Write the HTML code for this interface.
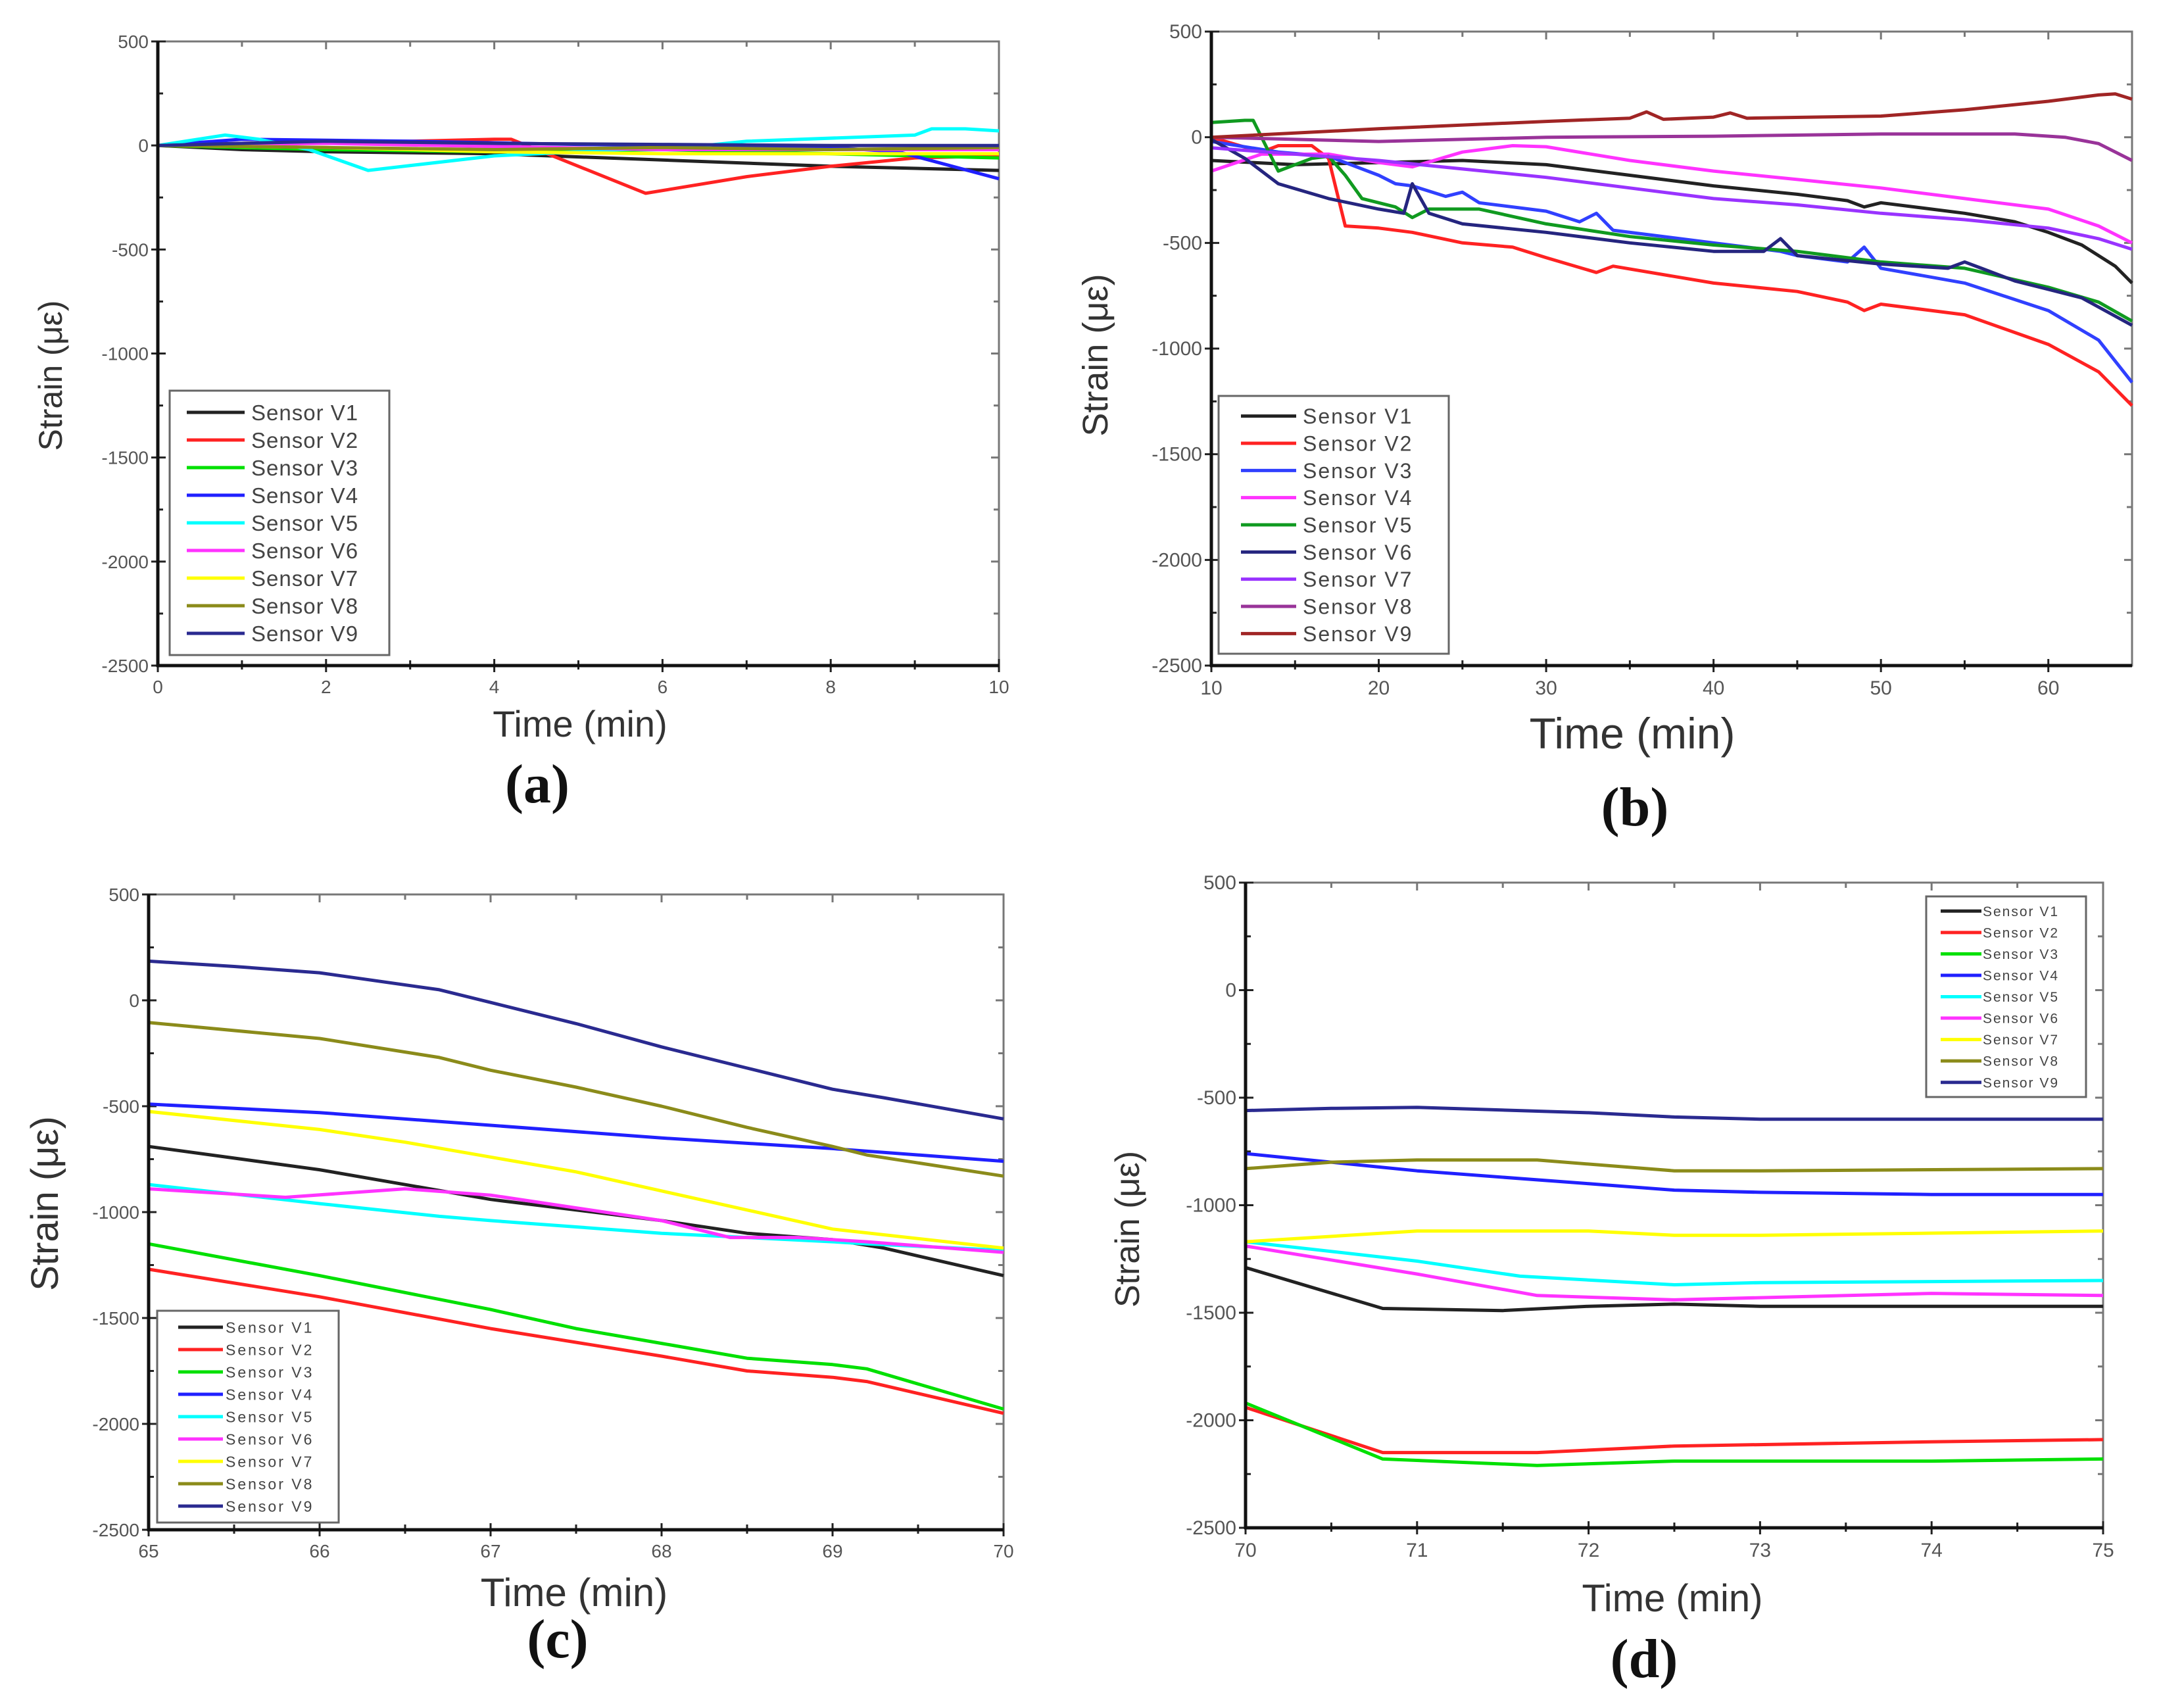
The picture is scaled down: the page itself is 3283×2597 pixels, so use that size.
<!DOCTYPE html>
<html><head><meta charset="utf-8"><style>
html,body{margin:0;padding:0;background:#fff;}
svg{display:block;}
</style></head><body>
<svg id="fig" width="3283" height="2597" viewBox="0 0 3283 2597" xmlns="http://www.w3.org/2000/svg"></svg>
<script>
// ---------- data ----------
const sensorNames = ["Sensor  V1","Sensor  V2","Sensor  V3","Sensor  V4","Sensor  V5","Sensor  V6","Sensor  V7","Sensor  V8","Sensor  V9"];
const yTicks = [500,0,-500,-1000,-1500,-2000,-2500];
const yTickLabels = ["500","0","-500","-1000","-1500","-2000","-2500"];

// Panel (a): time 0-10
const aX1=[0,1,2,4,6,8,10], aY1=[0,-20,-30,-40,-70,-100,-120];
const aX2=[0,2,3,4,4.2,5.8,7,8,9,10], aY2=[0,20,20,30,30,-230,-150,-100,-60,-50];
const aX3=[0,2,4,6,8,10], aY3=[0,-20,-30,-20,-40,-60];
const aX4=[0,1,3,5,8,8.8,10], aY4=[0,30,20,5,-10,-30,-160];
const aX5=[0,0.8,1.2,1.8,2.5,4,5,6.5,7,9,9.2,9.6,10], aY5=[0,50,30,-20,-120,-50,-30,0,20,50,80,80,70];
const aX6=[0,2,4,6,8,10], aY6=[0,10,-5,-20,-20,-20];
const aX7=[0,2,4,6,8,10], aY7=[0,-10,-30,-40,-40,-40];
const aX8=[0,2,4,6,8,10], aY8=[0,-10,-20,-10,-20,-10];
const aX9=[0,2,4,6,8,10], aY9=[0,20,10,5,0,0];

// Panel (b): time 10-65
const bX1=[10,15,20,25,30,35,40,45,48,49,50,55,58,60,62,64,65], bY1=[-110,-130,-120,-110,-130,-180,-230,-270,-300,-330,-310,-360,-400,-450,-510,-610,-690];
const bX2=[10,13,14,16,17,18,20,22,25,28,30,33,34,40,45,48,49,50,55,60,63,65], bY2=[0,-70,-40,-40,-100,-420,-430,-450,-500,-520,-570,-640,-610,-690,-730,-780,-820,-790,-840,-980,-1110,-1270];
const bX3=[10,14,17,20,21,22,24,25,26,30,32,33,34,40,44,45,48,49,50,55,60,63,65], bY3=[-20,-70,-90,-180,-220,-230,-280,-260,-310,-350,-400,-360,-440,-500,-540,-560,-590,-520,-620,-690,-820,-960,-1160];
const bX4=[10,13,17,20,22,25,28,30,35,40,45,50,55,60,63,65], bY4=[-160,-80,-80,-120,-140,-70,-40,-45,-110,-160,-200,-240,-290,-340,-420,-500];
const bX5=[10,12,12.5,14,16,17,18,19,21,22,23,26,30,35,40,45,50,55,60,63,65], bY5=[70,80,80,-160,-100,-90,-180,-290,-330,-380,-340,-340,-410,-470,-510,-540,-590,-620,-710,-780,-870];
const bX6=[10,12,14,17,20,21.5,22,23,25,30,35,40,43,44,45,50,54,55,56,58,60,62,65], bY6=[-10,-100,-220,-290,-340,-360,-220,-360,-410,-450,-500,-540,-540,-480,-560,-600,-620,-590,-620,-680,-720,-760,-890];
const bX7=[10,15,20,25,30,35,40,45,50,55,60,63,65], bY7=[-50,-80,-110,-150,-190,-240,-290,-320,-360,-390,-430,-480,-530];
const bX8=[10,20,30,40,50,58,61,63,65], bY8=[0,-20,0,5,15,15,0,-30,-110];
const bX9=[10,20,30,35,36,37,40,41,42,50,55,60,63,64,65], bY9=[0,40,75,90,120,85,95,115,90,100,130,170,200,205,180];

// Panel (c): time 65-70
const cX1=[65,66,67,68,68.5,69,69.3,70], cY1=[-690,-800,-940,-1040,-1100,-1130,-1170,-1300];
const cX2=[65,66,67,68,68.5,69,69.2,70], cY2=[-1270,-1400,-1550,-1680,-1750,-1780,-1800,-1950];
const cX3=[65,66,67,67.5,68,68.5,69,69.2,70], cY3=[-1150,-1300,-1460,-1550,-1620,-1690,-1720,-1740,-1930];
const cX4=[65,66,67,68,69,70], cY4=[-490,-530,-590,-650,-700,-760];
const cX5=[65,66,66.7,67,67.5,68,68.5,69,69.2,70], cY5=[-870,-960,-1020,-1040,-1070,-1100,-1120,-1140,-1150,-1180];
const cX6=[65,65.8,66.5,67,67.5,68,68.4,68.8,69.2,70], cY6=[-890,-930,-890,-920,-980,-1040,-1120,-1120,-1140,-1190];
const cX7=[65,66,66.5,67,67.5,68,68.5,69,70], cY7=[-525,-610,-670,-740,-810,-900,-990,-1080,-1170];
const cX8=[65,66,66.7,67,67.5,68,68.5,69,69.2,70], cY8=[-105,-180,-270,-330,-410,-500,-600,-690,-730,-830];
const cX9=[65,65.5,66,66.7,67,67.5,68,68.5,69,69.3,70], cY9=[185,160,130,50,-10,-110,-220,-320,-420,-460,-560];

// Panel (d): time 70-75
const dX1=[70,70.8,71.5,72,72.5,73,75], dY1=[-1290,-1480,-1490,-1470,-1460,-1470,-1470];
const dX2=[70,70.8,71.7,72.5,74,75], dY2=[-1940,-2150,-2150,-2120,-2100,-2090];
const dX3=[70,70.8,71.7,72.5,74,75], dY3=[-1920,-2180,-2210,-2190,-2190,-2180];
const dX4=[70,71,72,72.5,73,74,75], dY4=[-760,-840,-900,-930,-940,-950,-950];
const dX5=[70,71,71.6,72.5,73,75], dY5=[-1170,-1260,-1330,-1370,-1360,-1350];
const dX6=[70,71,71.7,72.5,73,74,75], dY6=[-1190,-1320,-1420,-1440,-1430,-1410,-1420];
const dX7=[70,71,72,72.5,73,74,75], dY7=[-1170,-1120,-1120,-1140,-1140,-1130,-1120];
const dX8=[70,70.5,71,71.7,72.5,73,75], dY8=[-830,-800,-790,-790,-840,-840,-830];
const dX9=[70,70.5,71,72,72.5,73,75], dY9=[-560,-550,-545,-570,-590,-600,-600];

const aTicks=[0,2,4,6,8,10], bTicks=[10,20,30,40,50,60], cTicks=[65,66,67,68,69,70], dTicks=[70,71,72,73,74,75];

// ---------- drawing ----------
const NS="http://www.w3.org/2000/svg";
const svg=document.getElementById('fig');
function mk(tag,attrs,parent){const e=document.createElementNS(NS,tag);for(const k in attrs)e.setAttribute(k,attrs[k]);(parent||svg).appendChild(e);return e;}
const colA=["#222222","#ff2222","#00e000","#2020ff","#00ffff","#ff33ff","#ffff00","#8b8b1a","#2a2a90"];
const colB=["#222222","#ff2222","#3040ff","#ff33ff","#109a20","#25257f","#9933ff","#993399","#a02525"];

function panel(cfg){
  const g=mk('g',{});
  
  
  const L=cfg.L,R=cfg.R,T=cfg.T,B=cfg.B;
  const sx=v=>L+(v-cfg.x0)/(cfg.x1-cfg.x0)*(R-L);
  const sy=v=>B-(v-(-2500))/3000*(B-T);
  const fr=mk('rect',{x:L,y:T,width:R-L,height:B-T,fill:'none',stroke:'#777',"stroke-width":3},g);
  
  const yax=mk('g',{},g);
  yTicks.forEach((v,i)=>{
    const y=sy(v);
    mk('line',{x1:L-10,x2:L+12,y1:y,y2:y,stroke:'#222',"stroke-width":3},yax);
    mk('line',{x1:R-12,x2:R,y1:y,y2:y,stroke:'#777',"stroke-width":3},yax);
    const t=mk('text',{x:L-14,y:y+10,"text-anchor":"end","font-size":cfg.tf,fill:'#555',"font-family":"Liberation Sans, sans-serif"},yax);
    t.textContent=yTickLabels[i];
    
    if(i<yTicks.length-1){const ym=sy(v-250);
      mk('line',{x1:L,x2:L+8,y1:ym,y2:ym,stroke:'#222',"stroke-width":3},yax);
      mk('line',{x1:R-8,x2:R,y1:ym,y2:ym,stroke:'#777',"stroke-width":3},yax);}
  });
  const xax=mk('g',{},g);
  const step=cfg.ticks[1]-cfg.ticks[0];
  cfg.ticks.forEach((v,i)=>{
    const x=sx(v);
    mk('line',{x1:x,x2:x,y1:B-10,y2:B+10,stroke:'#222',"stroke-width":3},xax);
    mk('line',{x1:x,x2:x,y1:T,y2:T+12,stroke:'#777',"stroke-width":3},xax);
    const t=mk('text',{x:x,y:B+cfg.tf+14,"text-anchor":"middle","font-size":cfg.tf,fill:'#555',"font-family":"Liberation Sans, sans-serif"},xax);
    t.textContent=String(v);
    
    const vm=v+step/2;
    if(vm<cfg.x1){const xm=sx(vm);
      mk('line',{x1:xm,x2:xm,y1:B-8,y2:B+6,stroke:'#222',"stroke-width":3},xax);
      mk('line',{x1:xm,x2:xm,y1:T,y2:T+8,stroke:'#777',"stroke-width":3},xax);}
  });
  cfg.series.forEach((s,i)=>{
    const pts=s[0].map((x,j)=>sx(x).toFixed(1)+','+sy(s[1][j]).toFixed(1)).join(' ');
    const p=mk('polyline',{points:pts,fill:'none',stroke:cfg.colors[i],"stroke-width":5,"stroke-linejoin":"round"},g);
    
    
  });
  mk('line',{x1:L,x2:L,y1:T,y2:B+2,stroke:'#111',"stroke-width":5},g);
  mk('line',{x1:L-2,x2:R,y1:B,y2:B,stroke:'#111',"stroke-width":5},g);
  const lg=mk('g',{},g);
  const Lg=cfg.leg;
  mk('rect',{x:Lg.x,y:Lg.y,width:Lg.w,height:Lg.h,fill:'#fff',stroke:'#666',"stroke-width":3},lg);
  const rowH=(Lg.h-Lg.pad*2)/9;
  sensorNames.forEach((n,i)=>{
    const y=Lg.y+Lg.pad+rowH*(i+0.5);
    const e=mk('g',{},lg);
    mk('line',{x1:Lg.x+Lg.l1,x2:Lg.x+Lg.l2,y1:y,y2:y,stroke:cfg.colors[i],"stroke-width":5},e);
    const t=mk('text',{x:Lg.x+Lg.tx,y:y+Lg.fs*0.36,"font-size":Lg.fs,fill:'#444',"letter-spacing":Lg.ls,"font-family":"Liberation Sans, sans-serif","xml:space":"preserve"},e);
    t.textContent=n;
  });
  const yt=mk('text',{x:0,y:0,transform:`translate(${cfg.yt[0]},${cfg.yt[1]}) rotate(-90)`,"text-anchor":"middle","font-size":cfg.af,fill:'#333',"font-family":"Liberation Sans, sans-serif"},g);
  yt.textContent='Strain (με)';
  const xt=mk('text',{x:cfg.xt[0],y:cfg.xt[1],"text-anchor":"middle","font-size":cfg.xf,fill:'#333',"font-family":"Liberation Sans, sans-serif"},g);
  xt.textContent='Time (min)';
  const pl=mk('text',{x:cfg.pl[0],y:cfg.pl[1],"text-anchor":"middle","font-size":84,"font-weight":"bold",fill:'#111',"font-family":"Liberation Serif, serif"},g);
  pl.textContent='('+cfg.id+')';
}

panel({id:'a',L:240,R:1519,T:63,B:1012,x0:0,x1:10,ticks:aTicks,tf:28,af:50,xf:56,colors:colA,
  series:[[aX1,aY1],[aX2,aY2],[aX3,aY3],[aX4,aY4],[aX5,aY5],[aX6,aY6],[aX7,aY7],[aX8,aY8],[aX9,aY9]],
  leg:{x:258,y:594,w:334,h:402,pad:12,l1:26,l2:114,tx:124,fs:33,ls:1},
  yt:[94,571],xt:[882,1120],pl:[817,1220]});
panel({id:'b',L:1842,R:3242,T:48,B:1012,x0:10,x1:65,ticks:bTicks,tf:30,af:54,xf:66,colors:colB,
  series:[[bX1,bY1],[bX2,bY2],[bX3,bY3],[bX4,bY4],[bX5,bY5],[bX6,bY6],[bX7,bY7],[bX8,bY8],[bX9,bY9]],
  leg:{x:1853,y:602,w:350,h:392,pad:10,l1:34,l2:118,tx:128,fs:32,ls:2},
  yt:[1684,540],xt:[2482,1138],pl:[2486,1255]});
panel({id:'c',L:226,R:1526,T:1360,B:2326,x0:65,x1:70,ticks:cTicks,tf:28,af:58,xf:60,colors:colA,
  series:[[cX1,cY1],[cX2,cY2],[cX3,cY3],[cX4,cY4],[cX5,cY5],[cX6,cY6],[cX7,cY7],[cX8,cY8],[cX9,cY9]],
  leg:{x:239,y:1993,w:276,h:322,pad:8,l1:32,l2:100,tx:104,fs:23,ls:3},
  yt:[88,1830],xt:[873,2442],pl:[848,2520]});
panel({id:'d',L:1894,R:3198,T:1342,B:2323,x0:70,x1:75,ticks:dTicks,tf:30,af:52,xf:58,colors:colA,
  series:[[dX1,dY1],[dX2,dY2],[dX3,dY3],[dX4,dY4],[dX5,dY5],[dX6,dY6],[dX7,dY7],[dX8,dY8],[dX9,dY9]],
  leg:{x:2929,y:1363,w:243,h:305,pad:6,l1:22,l2:84,tx:86,fs:21,ls:2},
  yt:[1732,1869],xt:[2543,2450],pl:[2500,2550]});
</script>
</body></html>
